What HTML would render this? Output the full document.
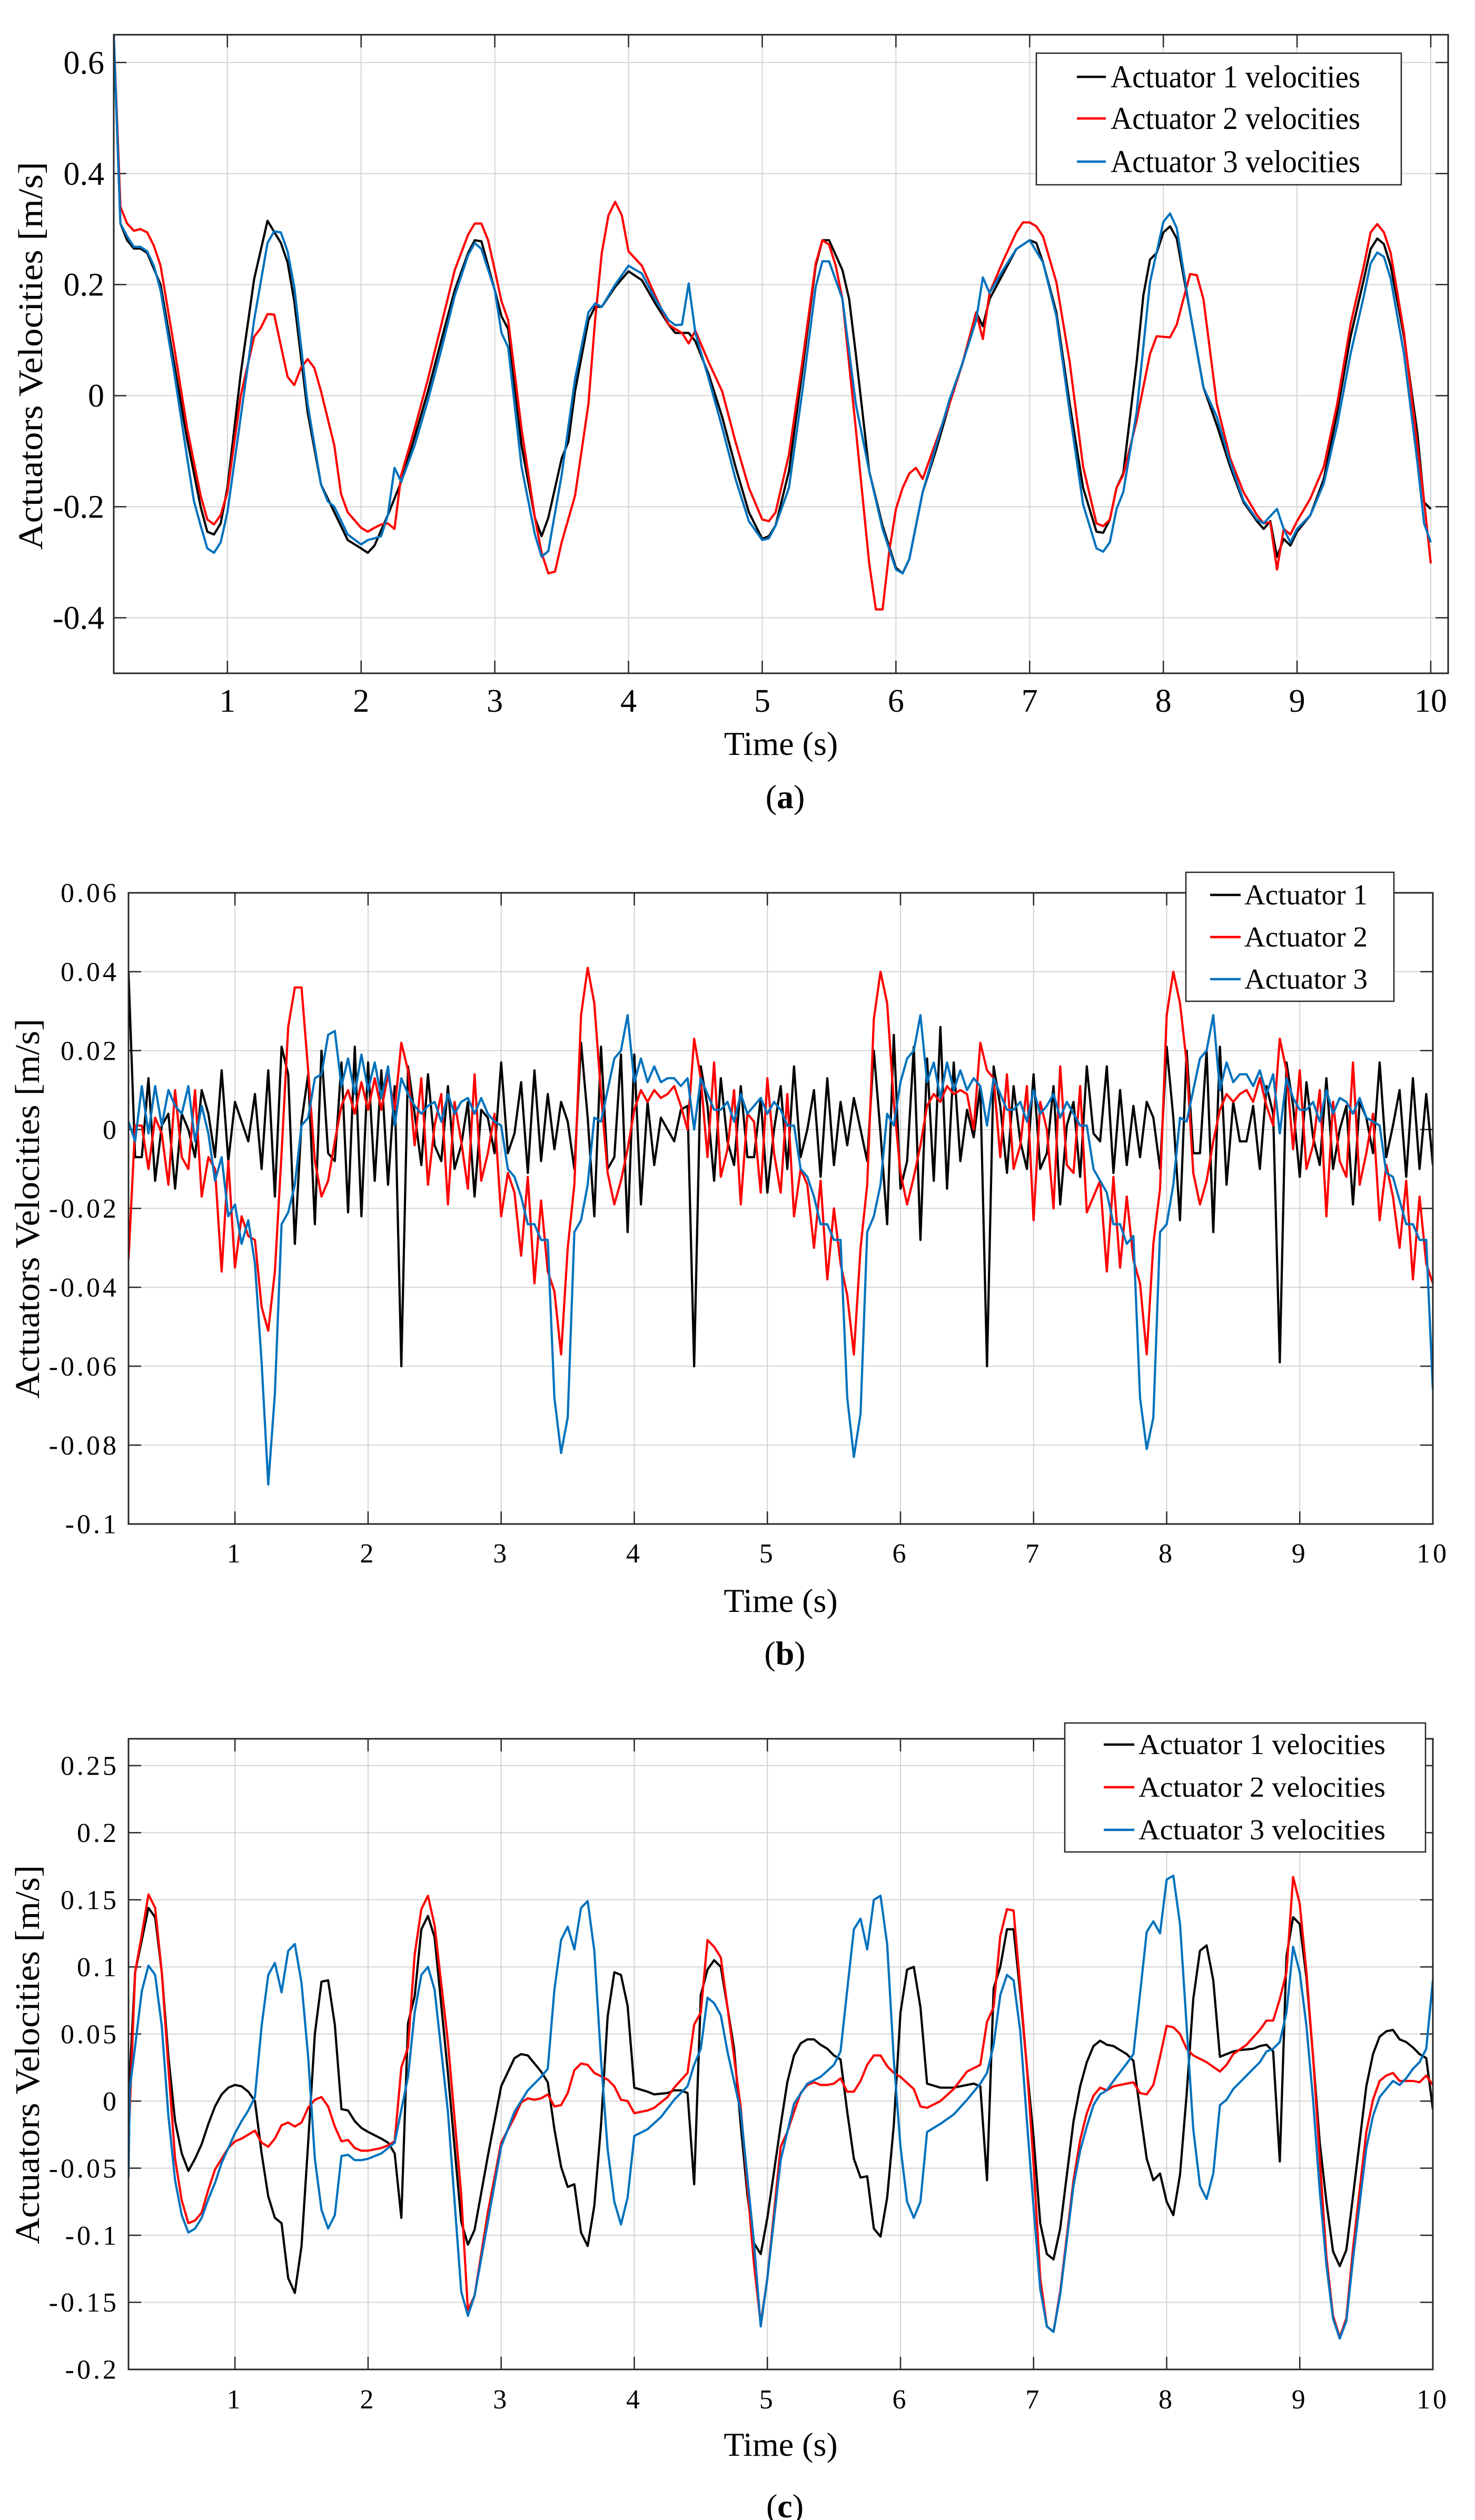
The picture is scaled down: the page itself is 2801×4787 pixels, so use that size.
<!DOCTYPE html>
<html>
<head>
<meta charset="utf-8">
<style>
html,body{margin:0;padding:0;background:#fff;}
svg{display:block;font-family:"Liberation Serif","Times New Roman",serif;}
text,tspan{font-family:"Liberation Serif","Times New Roman",serif;fill:#000;}
</style>
</head>
<body>
<svg id="fig" xmlns="http://www.w3.org/2000/svg" width="2801" height="4787" viewBox="0 0 2801 4787" font-family="Liberation Serif, serif"></svg>
<script>
// ---------- Panel (a) data ----------
const aT1 = [0.15,0.2,0.25,0.3,0.35,0.4,0.5,0.6,0.7,0.8,0.85,0.9,0.95,1.0,1.1,1.2,1.3,1.4,1.45,1.5,1.6,1.7,1.8,1.9,2.0,2.05,2.1,2.2,2.3,2.4,2.5,2.6,2.7,2.8,2.85,2.9,3.0,3.05,3.1,3.2,3.3,3.35,3.4,3.5,3.55,3.6,3.7,3.75,3.8,3.9,4.0,4.1,4.2,4.3,4.35,4.45,4.5,4.6,4.7,4.8,4.9,5.0,5.05,5.1,5.2,5.3,5.4,5.45,5.5,5.6,5.65,5.7,5.8,5.9,6.0,6.05,6.1,6.2,6.3,6.4,6.5,6.6,6.65,6.7,6.8,6.9,7.0,7.05,7.1,7.2,7.3,7.4,7.5,7.55,7.6,7.65,7.7,7.8,7.85,7.9,7.95,8.0,8.05,8.1,8.2,8.3,8.4,8.5,8.6,8.7,8.75,8.8,8.85,8.9,8.95,9.0,9.1,9.2,9.3,9.4,9.5,9.55,9.6,9.65,9.7,9.8,9.9,9.95,10.0];
const aV1 = [0.65,0.31,0.28,0.265,0.265,0.257,0.2,0.06,-0.08,-0.2,-0.245,-0.25,-0.23,-0.166,0.04,0.21,0.315,0.275,0.24,0.17,-0.03,-0.16,-0.21,-0.26,-0.275,-0.283,-0.27,-0.215,-0.155,-0.075,0.008,0.1,0.19,0.257,0.28,0.278,0.19,0.143,0.12,-0.09,-0.22,-0.253,-0.22,-0.113,-0.083,0.008,0.136,0.16,0.16,0.196,0.224,0.208,0.166,0.128,0.113,0.113,0.098,0.038,-0.038,-0.128,-0.21,-0.258,-0.253,-0.234,-0.136,0.045,0.234,0.28,0.28,0.226,0.174,0.075,-0.136,-0.234,-0.31,-0.32,-0.294,-0.174,-0.098,-0.015,0.06,0.15,0.125,0.174,0.219,0.264,0.28,0.275,0.24,0.15,-0.015,-0.166,-0.245,-0.247,-0.223,-0.166,-0.14,0.06,0.18,0.245,0.257,0.294,0.305,0.283,0.15,0.015,-0.053,-0.128,-0.192,-0.226,-0.24,-0.226,-0.29,-0.258,-0.27,-0.245,-0.215,-0.15,-0.03,0.106,0.21,0.264,0.283,0.273,0.234,0.106,-0.068,-0.192,-0.204];
const aT2 = [0.15,0.2,0.25,0.3,0.35,0.4,0.45,0.5,0.6,0.7,0.8,0.85,0.9,0.95,1.0,1.1,1.2,1.25,1.3,1.35,1.4,1.45,1.5,1.55,1.6,1.65,1.7,1.8,1.85,1.9,2.0,2.05,2.1,2.15,2.2,2.25,2.3,2.4,2.5,2.6,2.7,2.8,2.85,2.9,2.95,3.0,3.05,3.1,3.2,3.3,3.35,3.4,3.45,3.5,3.6,3.7,3.75,3.8,3.85,3.9,3.95,4.0,4.1,4.2,4.3,4.35,4.4,4.45,4.5,4.6,4.7,4.8,4.9,5.0,5.05,5.1,5.2,5.3,5.4,5.45,5.5,5.55,5.6,5.7,5.8,5.85,5.9,5.95,6.0,6.05,6.1,6.15,6.2,6.3,6.4,6.5,6.6,6.65,6.7,6.8,6.9,6.95,7.0,7.05,7.1,7.2,7.3,7.4,7.5,7.55,7.6,7.65,7.7,7.8,7.9,7.95,8.0,8.05,8.1,8.15,8.2,8.25,8.3,8.4,8.5,8.6,8.7,8.75,8.8,8.85,8.9,8.95,9.0,9.1,9.2,9.3,9.4,9.5,9.55,9.6,9.65,9.7,9.8,9.9,9.95,10.0];
const aV2 = [0.65,0.34,0.31,0.297,0.3,0.294,0.27,0.234,0.09,-0.06,-0.18,-0.223,-0.232,-0.215,-0.174,0,0.106,0.122,0.147,0.146,0.09,0.034,0.019,0.05,0.066,0.05,0.008,-0.09,-0.177,-0.21,-0.238,-0.245,-0.238,-0.232,-0.23,-0.24,-0.143,-0.06,0.03,0.128,0.226,0.29,0.31,0.31,0.28,0.226,0.17,0.136,-0.06,-0.22,-0.283,-0.32,-0.317,-0.264,-0.18,-0.015,0.136,0.257,0.325,0.349,0.325,0.26,0.234,0.18,0.128,0.12,0.113,0.094,0.117,0.06,0.008,-0.083,-0.166,-0.223,-0.226,-0.21,-0.106,0.06,0.238,0.28,0.272,0.234,0.174,-0.06,-0.302,-0.385,-0.385,-0.28,-0.204,-0.166,-0.14,-0.13,-0.15,-0.083,-0.015,0.06,0.15,0.102,0.185,0.242,0.294,0.312,0.312,0.305,0.287,0.204,0.06,-0.128,-0.23,-0.235,-0.223,-0.166,-0.143,-0.045,0.075,0.107,0.106,0.105,0.128,0.174,0.219,0.217,0.174,-0.015,-0.113,-0.174,-0.215,-0.23,-0.228,-0.313,-0.24,-0.25,-0.226,-0.185,-0.128,-0.015,0.128,0.234,0.294,0.309,0.294,0.257,0.113,-0.09,-0.189,-0.302];
const aT3 = [0.15,0.2,0.25,0.3,0.35,0.4,0.45,0.5,0.6,0.7,0.75,0.8,0.85,0.9,0.95,1.0,1.1,1.2,1.3,1.35,1.4,1.45,1.5,1.6,1.7,1.75,1.8,1.9,2.0,2.05,2.1,2.15,2.2,2.25,2.3,2.4,2.5,2.6,2.7,2.8,2.85,2.9,3.0,3.05,3.1,3.2,3.3,3.35,3.4,3.5,3.6,3.7,3.75,3.8,3.9,4.0,4.1,4.2,4.3,4.35,4.4,4.45,4.5,4.6,4.7,4.8,4.9,5.0,5.05,5.1,5.2,5.3,5.4,5.45,5.5,5.6,5.7,5.8,5.9,6.0,6.05,6.1,6.2,6.3,6.4,6.5,6.6,6.65,6.7,6.8,6.9,7.0,7.1,7.2,7.3,7.4,7.5,7.55,7.6,7.65,7.7,7.8,7.9,8.0,8.05,8.1,8.2,8.3,8.4,8.5,8.6,8.7,8.75,8.85,8.9,8.95,9.0,9.1,9.2,9.3,9.4,9.5,9.55,9.6,9.65,9.7,9.8,9.9,9.95,10.0];
const aV3 = [0.65,0.31,0.287,0.268,0.268,0.26,0.234,0.19,0.045,-0.113,-0.19,-0.234,-0.275,-0.283,-0.264,-0.21,-0.038,0.136,0.275,0.296,0.294,0.26,0.196,-0.015,-0.16,-0.19,-0.2,-0.25,-0.268,-0.26,-0.257,-0.253,-0.215,-0.13,-0.155,-0.09,-0.008,0.083,0.18,0.253,0.275,0.264,0.19,0.113,0.087,-0.128,-0.25,-0.29,-0.28,-0.143,0.03,0.15,0.166,0.16,0.2,0.234,0.22,0.174,0.136,0.127,0.128,0.202,0.113,0.03,-0.057,-0.15,-0.226,-0.26,-0.257,-0.234,-0.166,0.008,0.196,0.242,0.242,0.174,-0.015,-0.136,-0.24,-0.313,-0.32,-0.294,-0.174,-0.09,-0.008,0.06,0.136,0.213,0.185,0.226,0.264,0.28,0.24,0.143,-0.03,-0.196,-0.275,-0.281,-0.264,-0.204,-0.174,-0.03,0.204,0.313,0.328,0.302,0.15,0.015,-0.038,-0.12,-0.189,-0.223,-0.23,-0.204,-0.24,-0.264,-0.24,-0.215,-0.158,-0.053,0.075,0.18,0.238,0.258,0.25,0.211,0.075,-0.12,-0.23,-0.264];
const aYTicks = [0.6,0.4,0.2,0,-0.2,-0.4];
const aYLabels = ["0.6","0.4","0.2","0","-0.2","-0.4"];

// ---------- Panel (b) data (t = 0.2 .. 10 every 0.05 s) ----------
const bStart = 0.2, bStep = 0.05;
const bV1 = [
0.04,-0.007,-0.007,0.013,-0.013,0.001,0.004,-0.015,0.004,0,-0.007,0.01,0.004,-0.007,0.015,-0.008,
0.007,0.002,-0.003,0.009,-0.01,0.015,-0.017,0.021,0.014,-0.029,0.002,0.014,-0.024,0.02,-0.006,-0.008,0.017,-0.021,0.021,-0.022,
0.017,-0.013,0.015,-0.014,0.011,-0.06,0.016,0.004,-0.009,0.014,-0.004,-0.008,0.011,-0.01,-0.004,0.007,-0.017,0.005,0.003,-0.006,
0.017,-0.006,-0.001,0.012,-0.011,0.015,-0.008,0.009,-0.005,0.007,0.002,-0.01,0.022,0.003,-0.022,0.021,-0.01,-0.007,0.019,-0.026,
0.019,-0.019,0.007,-0.009,0.003,0,-0.003,0.005,0.006,-0.06,0.016,0.006,-0.013,0.013,-0.003,-0.009,0.011,-0.007,-0.007,0.008,
-0.016,0,0.011,-0.01,0.016,-0.007,0,0.01,-0.012,0.013,-0.009,0.007,-0.004,0.008,0,-0.008,0.02,-0.001,-0.024,0.024,
-0.015,-0.008,0.021,-0.028,0.018,-0.013,0.026,-0.015,0.017,-0.008,0.005,-0.002,0.011,-0.06,0.016,0.006,-0.011,0.011,-0.003,-0.01,
0.014,-0.01,-0.006,0.011,-0.019,0.001,0.007,-0.012,0.016,-0.001,-0.003,0.016,-0.011,0.01,-0.009,0.006,-0.007,0.007,0.003,-0.01,
0.021,0.003,-0.023,0.02,-0.006,-0.006,0.02,-0.026,0.021,-0.014,0.007,-0.003,-0.003,0.006,-0.01,0.011,0.004,-0.059,0.017,0.006,
-0.012,0.012,-0.002,-0.009,0.013,-0.01,0,0.006,-0.019,0.007,0.003,-0.006,0.017,-0.007,0.001,0.01,-0.012,0.013,-0.01,0.009,
-0.009];
const bV2 = [
-0.033,0.001,0.001,-0.01,0.003,-0.001,-0.014,0.01,-0.007,-0.01,0.01,-0.017,-0.007,-0.01,-0.036,-0.008,
-0.035,-0.022,-0.027,-0.028,-0.045,-0.051,-0.036,-0.006,0.026,0.036,0.036,0.015,-0.008,-0.017,-0.013,-0.003,0.006,0.01,0.004,0.012,
0.005,0.013,0.005,0.014,0.005,0.022,0.015,-0.004,0.013,-0.014,0.001,0.009,-0.019,0.007,-0.003,-0.015,0.014,-0.013,-0.006,0.004,
-0.022,-0.011,-0.016,-0.032,-0.012,-0.039,-0.018,-0.036,-0.041,-0.057,-0.03,-0.014,0.029,0.041,0.032,0.009,-0.011,-0.019,-0.013,-0.005,
0.005,0.01,0.007,0.01,0.008,0.009,0.011,0.006,0,0.023,0.013,-0.007,0.017,-0.012,-0.005,0.01,-0.019,0.004,0.002,-0.016,
0.013,-0.006,-0.016,0.009,-0.022,-0.01,-0.014,-0.03,-0.013,-0.038,-0.02,-0.034,-0.042,-0.057,-0.03,-0.014,0.028,0.04,0.032,0.007,
-0.011,-0.019,-0.012,-0.004,0.006,0.009,0.007,0.011,0.009,0.01,0.009,0,0.022,0.015,0.013,-0.007,0.014,-0.01,-0.004,0.011,
-0.023,0.007,0,-0.02,0.016,-0.009,-0.011,0.011,-0.021,-0.017,-0.013,-0.036,-0.012,-0.035,-0.017,-0.033,-0.039,-0.057,-0.029,-0.015,
0.029,0.04,0.032,0.017,-0.011,-0.019,-0.013,-0.003,0.005,0.009,0.007,0.009,0.01,0.007,0.013,0.006,0.001,0.023,0.015,-0.005,
0.015,-0.01,-0.004,0.01,-0.022,0.007,-0.008,-0.012,0.017,-0.014,-0.006,0.004,-0.023,-0.009,-0.017,-0.03,-0.013,-0.038,-0.017,-0.034,
-0.039];
const bV3 = [
0.002,-0.003,0.011,-0.001,0.011,0.001,0.01,0.006,0.004,0.011,-0.003,0.006,-0.001,-0.013,-0.007,-0.022,
-0.019,-0.029,-0.023,-0.034,-0.059,-0.09,-0.067,-0.024,-0.021,-0.014,0.001,0.003,0.013,0.014,0.024,0.025,0.011,0.018,0.009,0.019,
0.01,0.017,0.008,0.016,0.001,0.013,0.009,0.006,0.004,0.006,0.007,0.002,0.009,0.004,0.007,0.008,0.004,0.008,0.004,0.002,
0.001,-0.01,-0.012,-0.017,-0.024,-0.024,-0.028,-0.028,-0.068,-0.082,-0.073,-0.026,-0.023,-0.014,0.003,0.002,0.01,0.018,0.02,0.029,
0.012,0.018,0.012,0.016,0.012,0.013,0.013,0.011,0.013,0,0.013,0.009,0.005,0.005,0.007,0.002,0.009,0.004,0.006,0.008,
0.004,0.007,0.005,0.001,0.001,-0.01,-0.012,-0.017,-0.024,-0.024,-0.028,-0.028,-0.068,-0.083,-0.072,-0.026,-0.022,-0.014,0.004,0.001,
0.012,0.018,0.02,0.029,0.012,0.017,0.008,0.017,0.01,0.015,0.01,0.013,0.011,0.001,0.013,0.009,0.005,0.005,0.007,0.002,
0.01,0.004,0.006,0.009,0.003,0.007,0.004,0.001,0.001,-0.01,-0.013,-0.016,-0.024,-0.024,-0.029,-0.027,-0.068,-0.081,-0.073,-0.026,
-0.024,-0.014,0.003,0.002,0.01,0.018,0.02,0.029,0.01,0.017,0.012,0.014,0.014,0.011,0.015,0.009,0.014,-0.001,0.013,0.008,
0.005,0.005,0.007,0.002,0.01,0.004,0.008,0.007,0.004,0.008,0.003,0.002,0.001,-0.011,-0.012,-0.018,-0.024,-0.024,-0.028,-0.028,
-0.066];
const bYTicks = [0.06,0.04,0.02,0,-0.02,-0.04,-0.06,-0.08,-0.1];
const bYLabels = ["0.06","0.04","0.02","0","-0.02","-0.04","-0.06","-0.08","-0.1"];

// ---------- Panel (c) data ----------
const cT1 = [0.2,0.25,0.3,0.35,0.4,0.45,0.5,0.55,0.6,0.65,0.7,0.75,0.8,0.85,0.9,0.95,1.0,1.05,1.1,1.15,1.2,1.25,1.3,1.35,1.4,1.45,1.5,1.55,1.6,1.65,1.7,1.75,1.8,1.85,1.9,1.95,2.0,2.1,2.15,2.2,2.25,2.3,2.35,2.4,2.45,2.5,2.6,2.7,2.75,2.8,2.9,3.0,3.1,3.15,3.2,3.3,3.35,3.4,3.45,3.5,3.55,3.6,3.65,3.7,3.75,3.8,3.85,3.9,3.95,4.0,4.1,4.15,4.25,4.3,4.35,4.4,4.45,4.5,4.55,4.6,4.65,4.7,4.75,4.8,4.85,4.9,4.95,5.0,5.1,5.15,5.2,5.25,5.3,5.35,5.4,5.45,5.5,5.55,5.6,5.65,5.7,5.75,5.8,5.85,5.9,5.95,6.0,6.05,6.1,6.15,6.2,6.3,6.4,6.5,6.55,6.6,6.65,6.7,6.75,6.8,6.85,6.9,6.95,7.0,7.05,7.1,7.15,7.2,7.3,7.35,7.4,7.45,7.5,7.55,7.6,7.7,7.75,7.8,7.85,7.9,7.95,8.0,8.05,8.1,8.15,8.2,8.25,8.3,8.35,8.4,8.45,8.5,8.55,8.65,8.7,8.75,8.8,8.85,8.9,8.95,9.0,9.05,9.1,9.15,9.2,9.25,9.3,9.35,9.4,9.5,9.55,9.6,9.65,9.7,9.75,9.8,9.85,9.9,9.95,10.0];
const cV1 = [0,0.096,0.12,0.144,0.137,0.096,0.033,-0.015,-0.039,-0.052,-0.043,-0.032,-0.017,-0.004,0.005,0.01,0.012,0.011,0.007,0,-0.039,-0.071,-0.087,-0.091,-0.132,-0.143,-0.108,-0.031,0.05,0.089,0.09,0.057,-0.006,-0.007,-0.015,-0.02,-0.023,-0.028,-0.031,-0.039,-0.087,0.058,0.078,0.128,0.138,0.122,0.021,-0.09,-0.107,-0.096,-0.041,0.011,0.032,0.035,0.034,0.022,0.014,-0.021,-0.049,-0.064,-0.062,-0.098,-0.108,-0.078,-0.018,0.063,0.096,0.094,0.071,0.01,0.007,0.005,0.006,0.008,0.008,0.006,-0.062,0.079,0.098,0.105,0.1,0.07,0.039,-0.018,-0.07,-0.106,-0.114,-0.087,-0.018,0.014,0.034,0.043,0.046,0.046,0.042,0.039,0.034,0.031,-0.008,-0.043,-0.057,-0.056,-0.095,-0.101,-0.072,-0.018,0.066,0.098,0.1,0.07,0.013,0.01,0.01,0.012,0.013,0.011,-0.059,0.084,0.1,0.128,0.128,0.08,0.025,-0.027,-0.091,-0.114,-0.118,-0.095,-0.015,0.011,0.029,0.041,0.045,0.042,0.041,0.035,0.03,-0.007,-0.043,-0.059,-0.054,-0.075,-0.085,-0.055,0.005,0.076,0.112,0.116,0.09,0.033,0.035,0.037,0.038,0.039,0.041,0.042,0.037,-0.045,0.108,0.137,0.132,0.092,0.033,-0.031,-0.075,-0.112,-0.123,-0.111,-0.071,0.011,0.035,0.048,0.052,0.053,0.046,0.044,0.04,0.035,0.032,-0.006];
const cT2 = [0.2,0.25,0.3,0.35,0.4,0.45,0.5,0.55,0.6,0.65,0.7,0.75,0.8,0.85,0.9,0.95,1.0,1.05,1.1,1.15,1.2,1.25,1.3,1.35,1.4,1.45,1.5,1.55,1.6,1.65,1.7,1.75,1.8,1.85,1.9,1.95,2.0,2.1,2.15,2.2,2.25,2.3,2.35,2.4,2.45,2.5,2.6,2.7,2.75,2.8,2.9,3.0,3.1,3.15,3.2,3.25,3.3,3.35,3.4,3.45,3.5,3.55,3.6,3.65,3.7,3.8,3.85,3.9,3.95,4.0,4.1,4.15,4.25,4.3,4.4,4.45,4.5,4.55,4.6,4.65,4.7,4.8,4.9,4.95,5.0,5.1,5.15,5.2,5.25,5.3,5.35,5.4,5.45,5.5,5.55,5.6,5.65,5.7,5.75,5.8,5.85,5.9,5.95,6.0,6.1,6.15,6.2,6.3,6.4,6.5,6.6,6.65,6.7,6.75,6.8,6.85,6.9,6.95,7.0,7.05,7.1,7.15,7.2,7.3,7.35,7.4,7.45,7.5,7.55,7.6,7.7,7.75,7.8,7.85,7.9,7.95,8.0,8.05,8.1,8.15,8.2,8.3,8.4,8.45,8.5,8.6,8.7,8.75,8.8,8.85,8.9,8.95,9.0,9.05,9.1,9.15,9.2,9.25,9.3,9.35,9.4,9.5,9.55,9.6,9.65,9.7,9.75,9.8,9.85,9.9,9.95,10.0];
const cV2 = [-0.031,0.096,0.124,0.154,0.144,0.096,0.025,-0.043,-0.074,-0.091,-0.089,-0.083,-0.066,-0.051,-0.043,-0.035,-0.03,-0.028,-0.025,-0.022,-0.031,-0.034,-0.028,-0.018,-0.016,-0.019,-0.016,-0.005,0.001,0.003,-0.004,-0.019,-0.03,-0.029,-0.035,-0.037,-0.037,-0.035,-0.033,-0.03,0.025,0.04,0.109,0.143,0.153,0.131,0.044,-0.07,-0.156,-0.145,-0.083,-0.031,-0.012,-0.001,0.002,0.001,0.002,0.005,-0.004,-0.003,0.006,0.023,0.028,0.027,0.021,0.016,0.011,0.001,0,-0.009,-0.007,-0.005,0.003,0.01,0.021,0.057,0.066,0.12,0.115,0.107,0.07,-0.005,-0.122,-0.166,-0.132,-0.034,-0.023,-0.008,0.006,0.012,0.014,0.012,0.012,0.013,0.017,0.007,0.007,0.015,0.027,0.034,0.034,0.026,0.021,0.018,0.009,-0.004,-0.005,0,0.009,0.022,0.027,0.059,0.07,0.123,0.143,0.142,0.084,0.025,-0.047,-0.132,-0.168,-0.172,-0.142,-0.059,-0.029,-0.009,0.004,0.01,0.008,0.011,0.013,0.014,0.006,0.005,0.012,0.033,0.056,0.055,0.05,0.039,0.034,0.029,0.022,0.027,0.035,0.042,0.053,0.06,0.06,0.076,0.096,0.167,0.147,0.096,0.033,-0.043,-0.116,-0.16,-0.176,-0.162,-0.11,-0.023,0.001,0.015,0.019,0.021,0.015,0.015,0.015,0.014,0.019,0.012];
const cT3 = [0.2,0.21,0.25,0.3,0.35,0.4,0.45,0.5,0.55,0.6,0.65,0.7,0.75,0.8,0.85,0.9,0.95,1.0,1.05,1.1,1.15,1.2,1.25,1.3,1.35,1.4,1.45,1.5,1.55,1.6,1.65,1.7,1.75,1.8,1.85,1.9,1.95,2.0,2.1,2.15,2.2,2.3,2.35,2.4,2.45,2.5,2.6,2.7,2.75,2.8,2.9,3.0,3.1,3.2,3.3,3.35,3.4,3.45,3.5,3.55,3.6,3.65,3.7,3.75,3.8,3.85,3.9,3.95,4.0,4.1,4.2,4.3,4.4,4.45,4.5,4.55,4.6,4.65,4.7,4.8,4.9,4.95,5.0,5.1,5.2,5.3,5.4,5.5,5.55,5.6,5.65,5.7,5.75,5.8,5.85,5.9,5.95,6.0,6.05,6.1,6.15,6.2,6.3,6.4,6.5,6.6,6.65,6.7,6.75,6.8,6.85,6.9,6.95,7.0,7.05,7.1,7.15,7.2,7.3,7.35,7.4,7.45,7.5,7.55,7.6,7.7,7.75,7.8,7.85,7.9,7.95,8.0,8.05,8.1,8.15,8.2,8.25,8.3,8.35,8.4,8.45,8.5,8.6,8.7,8.75,8.8,8.85,8.9,8.95,9.0,9.05,9.1,9.15,9.2,9.25,9.3,9.35,9.4,9.5,9.55,9.6,9.65,9.7,9.75,9.8,9.85,9.9,9.95,10.0];
const cV3 = [-0.057,0.009,0.041,0.082,0.101,0.094,0.056,-0.011,-0.059,-0.085,-0.098,-0.095,-0.087,-0.073,-0.061,-0.046,-0.035,-0.024,-0.015,-0.007,0.003,0.056,0.094,0.103,0.081,0.112,0.117,0.088,0.033,-0.043,-0.081,-0.095,-0.085,-0.041,-0.04,-0.044,-0.044,-0.043,-0.039,-0.035,-0.031,0.018,0.066,0.094,0.1,0.083,-0.008,-0.142,-0.16,-0.145,-0.09,-0.034,-0.008,0.008,0.018,0.024,0.083,0.12,0.13,0.113,0.144,0.149,0.112,0.031,-0.036,-0.075,-0.092,-0.072,-0.026,-0.021,-0.012,0.001,0.011,0.027,0.039,0.077,0.073,0.064,0.037,-0.008,-0.106,-0.168,-0.132,-0.044,-0.002,0.013,0.018,0.027,0.037,0.083,0.128,0.136,0.113,0.15,0.153,0.117,0.031,-0.034,-0.075,-0.087,-0.075,-0.023,-0.017,-0.01,0.001,0.013,0.021,0.042,0.079,0.094,0.09,0.052,-0.015,-0.079,-0.14,-0.168,-0.172,-0.144,-0.063,-0.037,-0.019,-0.003,0.005,0.008,0.015,0.028,0.035,0.08,0.126,0.134,0.125,0.165,0.168,0.132,0.056,-0.021,-0.063,-0.073,-0.054,-0.003,0.001,0.009,0.019,0.029,0.037,0.039,0.044,0.066,0.115,0.096,0.056,0.001,-0.067,-0.122,-0.162,-0.177,-0.164,-0.118,-0.035,-0.011,0.003,0.009,0.015,0.012,0.017,0.024,0.029,0.039,0.09];
const cYTicks = [0.25,0.2,0.15,0.1,0.05,0,-0.05,-0.1,-0.15,-0.2];
const cYLabels = ["0.25","0.2","0.15","0.1","0.05","0","-0.05","-0.1","-0.15","-0.2"];

const xTicks = [1,2,3,4,5,6,7,8,9,10];
const xLabels = ["1","2","3","4","5","6","7","8","9","10"];
const seriesColors = ["#000000","#ff0000","#0072bd"];

// ---------- drawing ----------
const NS = "http://www.w3.org/2000/svg";
const svg = document.getElementById("fig");
const FONT = "Liberation Serif, Times New Roman, serif";
function el(tag, attrs, parent) {
  const e = document.createElementNS(NS, tag);
  for (const k in attrs) e.setAttribute(k, attrs[k]);
  if (tag === "text") e.setAttribute("font-family", FONT);
  (parent || svg).appendChild(e);
  return e;
}
function bTimes(n){ const t=[]; for(let i=0;i<n;i++) t.push(+(bStart+i*bStep).toFixed(3)); return t; }

function drawPanel(cfg) {
  const g = el("g", {});
  
  
  const {L,R,T,B,x0,x1,y0,y1} = cfg;
  const sx = v => L + (v - x0) / (x1 - x0) * (R - L);
  const sy = v => B - (v - y0) / (y1 - y0) * (B - T);
  const grid = el("g", {stroke:"#d4d4d4","stroke-width":2}, g);
  
  
  xTicks.forEach(v => { if (sx(v) > L+2 && sx(v) < R-2) el("line",{x1:sx(v),x2:sx(v),y1:T,y2:B},grid); });
  cfg.yTicks.forEach(v => { el("line",{x1:L,x2:R,y1:sy(v),y2:sy(v)},grid); });
  const tk = el("g", {stroke:"#262626","stroke-width":2.5}, g);
  xTicks.forEach(v => { const x = sx(v); if (x > L+2 && x < R-2) { el("line",{x1:x,x2:x,y1:B,y2:B-24},tk); el("line",{x1:x,x2:x,y1:T,y2:T+24},tk);} });
  cfg.yTicks.forEach(v => { const y = sy(v); el("line",{x1:L,x2:L+24,y1:y,y2:y},tk); el("line",{x1:R,x2:R-24,y1:y,y2:y},tk); });
  const cid = "clip-" + cfg.name;
  const cp = el("clipPath", {id:cid}, g);
  el("rect",{x:L,y:T,width:R-L,height:B-T},cp);
  const sg = el("g", {"clip-path":"url(#"+cid+")", fill:"none", "stroke-width":4.2, "stroke-linejoin":"round"}, g);
  cfg.series.forEach((s, i) => {
    const pts = s.v.map((v, j) => sx(s.t[j]).toFixed(1) + "," + sy(v).toFixed(1)).join(" ");
    const p = el("polyline", {points: pts, stroke: seriesColors[i]}, sg);
    
    
  });
  const box = el("rect",{x:L,y:T,width:R-L,height:B-T,fill:"none",stroke:"#262626","stroke-width":3},g);
  
  
  cfg.yTicks.forEach((v, i) => {
    const t = el("text",{x:cfg.yLabX,y:sy(v)+cfg.tickFont*0.34,"text-anchor":"end","font-size":cfg.tickFont,"letter-spacing":cfg.tickSpacing},g);
    t.textContent = cfg.yLabels[i];
    
    
  });
  xTicks.forEach((v, i) => {
    const t = el("text",{x:sx(v),y:cfg.xLabY,"text-anchor":"middle","font-size":cfg.tickFont,"letter-spacing":cfg.tickSpacing},g);
    t.textContent = xLabels[i];
    
    
  });
  const xt = el("text",{x:(L+R)/2,y:cfg.xTitleY,"text-anchor":"middle","font-size":64},g);
  xt.textContent = "Time (s)";
  
  
  const yt = el("text",{x:0,y:0,"text-anchor":"middle","font-size":66,textLength:cfg.yTitleLen,lengthAdjust:"spacingAndGlyphs",transform:"translate("+cfg.yTitleX+","+cfg.yTitleY+") rotate(-90)"},g);
  yt.textContent = "Actuators Velocities [m/s]";
  
  
  const cap = el("text",{x:(L+R)/2+8,y:cfg.capY,"text-anchor":"middle","font-size":64},g);
  cap.appendChild(document.createTextNode("("));
  const bt = el("tspan",{"font-weight":"bold"},cap); bt.textContent = cfg.capLetter;
  cap.appendChild(document.createTextNode(")"));
  
  
  const lg = el("g", {}, g);
  
  
  const Lg = cfg.legend;
  el("rect",{x:Lg.x,y:Lg.y,width:Lg.w,height:Lg.h,fill:"#fff",stroke:"#262626","stroke-width":2.5},lg);
  Lg.labels.forEach((lab, i) => {
    const y = Lg.rows[i];
    el("line",{x1:Lg.lx1,x2:Lg.lx2,y1:y,y2:y,stroke:seriesColors[i],"stroke-width":4.5},lg);
    const attrs = {x:Lg.tx,y:y+Lg.font*0.33,"font-size":Lg.font};
    if (Lg.textLen) { attrs.textLength = Lg.textLen; attrs.lengthAdjust = "spacingAndGlyphs"; }
    const t = el("text",attrs,lg);
    t.textContent = lab;
    
    
  });
}

const bT = bTimes(bV1.length);

drawPanel({
  name:"panel-a", L:216, R:2750, T:66, B:1279, x0:0.15, x1:10.13, y0:-0.5, y1:0.65,
  yTicks:aYTicks, yLabels:aYLabels, tickFont:62, tickSpacing:0, yLabX:198, xLabY:1352,
  xTitleY:1434, yTitleX:80, yTitleY:676, yTitleLen:737, capY:1535, capLetter:"a",
  series:[{t:aT1,v:aV1},{t:aT2,v:aV2},{t:aT3,v:aV3}],
  legend:{x:1968,y:101,w:693,h:250,rows:[146,225,307],lx1:2045,lx2:2100,tx:2109,font:60,textLen:474,
    labels:["Actuator 1 velocities","Actuator 2 velocities","Actuator 3 velocities"]}
});
drawPanel({
  name:"panel-b", L:244, R:2721, T:1696, B:2895, x0:0.2, x1:10, y0:-0.1, y1:0.06,
  yTicks:bYTicks, yLabels:bYLabels, tickFont:52, tickSpacing:5, yLabX:226, xLabY:2968,
  xTitleY:3062, yTitleX:74, yTitleY:2296, yTitleLen:722, capY:3162, capLetter:"b",
  series:[{t:bT,v:bV1},{t:bT,v:bV2},{t:bT,v:bV3}],
  legend:{x:2252,y:1657,w:395,h:245,rows:[1700,1780,1860],lx1:2298,lx2:2356,tx:2363,font:55,textLen:234,
    labels:["Actuator 1","Actuator 2","Actuator 3"]}
});
drawPanel({
  name:"panel-c", L:244, R:2721, T:3303, B:4501, x0:0.2, x1:10, y0:-0.2, y1:0.27,
  yTicks:cYTicks, yLabels:cYLabels, tickFont:52, tickSpacing:5, yLabX:226, xLabY:4575,
  xTitleY:4665, yTitleX:74, yTitleY:3903, yTitleLen:720, capY:4782, capLetter:"c",
  series:[{t:cT1,v:cV1},{t:cT2,v:cV2},{t:cT3,v:cV3}],
  legend:{x:2022,y:3273,w:685,h:245,rows:[3314,3395,3476],lx1:2096,lx2:2154,tx:2162,font:55,textLen:469,
    labels:["Actuator 1 velocities","Actuator 2 velocities","Actuator 3 velocities"]}
});
</script>
</body>
</html>
